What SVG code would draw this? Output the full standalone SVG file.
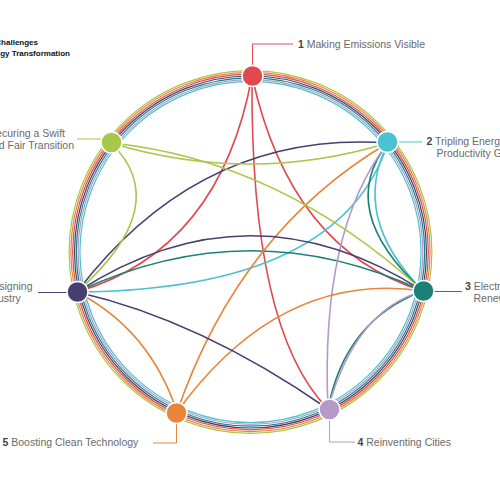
<svg xmlns="http://www.w3.org/2000/svg" width="500" height="500" viewBox="0 0 500 500">
<style>
.ch{fill:none;stroke-width:1.6}
.rg{fill:none;stroke-width:1.2}
.ld{fill:none;stroke-width:1}
.nd{stroke:#fff;stroke-width:1.5}
.lb{font-family:"Liberation Sans",Arial,sans-serif;font-size:10.5px;fill:#6a6a6a}
.nb{font-weight:bold;fill:#444}
.tt{font-family:"Liberation Sans",Arial,sans-serif;font-size:8px;font-weight:bold;fill:#111}
.c1{stroke:#e04a4f}.c2{stroke:#4ac2d2}.c3{stroke:#1a8078}.c4{stroke:#b499c9}.c5{stroke:#e9843a}.c6{stroke:#463f70}.c7{stroke:#a9c74a}
</style>
<rect width="500" height="500" fill="#fff"/>
<g id="title">
<text class="tt" x="38" y="44.5" text-anchor="end">The Seven Challenges</text>
<text class="tt" x="70" y="55.5" text-anchor="end">of the Energy Transformation</text>
</g>
<g id="ring">
<circle class="rg c7" cx="250.5" cy="252" r="181.4"/>
<circle class="rg c5" cx="250.5" cy="252" r="179.6"/>
<circle class="rg c1" cx="250.5" cy="252" r="177.8"/>
<circle class="rg c6" cx="250.5" cy="252" r="176"/>
<circle class="rg c3" cx="250.5" cy="252" r="174.2"/>
<circle class="rg c4" cx="250.5" cy="252" r="172.4"/>
<circle class="rg c2" cx="250.5" cy="252" r="170.6"/>
</g>
<g id="connectors">
<path class="ch c1" d="M252,76 Q220,250 77,292"/>
<path class="ch c1" d="M252,76 Q250,330 328,409"/>
<path class="ch c1" d="M252,76 Q290,250 423,291"/>
<path class="ch c2" d="M388,143 Q340,290 77,292"/>
<path class="ch c2" d="M388,143 Q350,217 423,291"/>
<path class="ch c3" d="M423,291 Q335,210 388,143"/>
<path class="ch c3" d="M423,291 Q250,210 77,292"/>
<path class="ch c3" d="M423,291 Q345,320 328,409"/>
<path class="ch c4" d="M328,409 Q320,230 388,143"/>
<path class="ch c4" d="M328,409 Q355,310 423,291"/>
<path class="ch c5" d="M177,412 Q240,230 388,143"/>
<path class="ch c5" d="M177,412 Q280,270 423,291"/>
<path class="ch c5" d="M177,412 Q150,330 77,292"/>
<path class="ch c6" d="M77,292 Q200,130 388,143"/>
<path class="ch c6" d="M77,292 Q250,180 423,291"/>
<path class="ch c6" d="M77,292 Q200,320 328,409"/>
<path class="ch c7" d="M111,143 Q250,185 388,143"/>
<path class="ch c7" d="M111,143 Q280,160 423,291"/>
<path class="ch c7" d="M111,143 Q175,205 77,292"/>
</g>
<g id="n1">
<path class="ld c1" d="M252.5,66 V44 H293"/>
<circle class="nd" cx="252.5" cy="76" r="10.5" fill="#e04a4f"/>
<text class="lb" x="298" y="48"><tspan class="nb">1</tspan> Making Emissions Visible</text>
</g>
<g id="n2">
<path class="ld c2" d="M399,142 H422"/>
<circle class="nd" cx="387.5" cy="142" r="10.5" fill="#4ac2d2"/>
<text class="lb" x="426.5" y="145"><tspan class="nb">2</tspan> Tripling Energy</text>
<text class="lb" x="436.5" y="157">Productivity Gains</text>
</g>
<g id="n3">
<path class="ld c3" d="M434,291.5 H462"/>
<circle class="nd" cx="423.5" cy="291" r="10.5" fill="#1a8078"/>
<text class="lb" x="465" y="290"><tspan class="nb">3</tspan> Electrifying with</text>
<text class="lb" x="473.5" y="302">Renewables</text>
</g>
<g id="n4">
<path class="ld c4" d="M329.5,420 V442 H355"/>
<circle class="nd" cx="329.5" cy="409.5" r="10.5" fill="#b499c9"/>
<text class="lb" x="357.5" y="446"><tspan class="nb">4</tspan> Reinventing Cities</text>
</g>
<g id="n5">
<path class="ld c5" d="M153,443 H176.5 V423"/>
<circle class="nd" cx="176.5" cy="413" r="10.5" fill="#e9843a"/>
<text class="lb" x="2.5" y="446"><tspan class="nb">5</tspan> Boosting Clean Technology</text>
</g>
<g id="n6">
<path class="ld c6" d="M38,292.5 H67"/>
<circle class="nd" cx="77.5" cy="292" r="10.5" fill="#463f70"/>
<text class="lb" x="32.5" y="290" text-anchor="end"><tspan class="nb">6</tspan> Redesigning</text>
<text class="lb" x="20.7" y="302" text-anchor="end">Industry</text>
</g>
<g id="n7">
<path class="ld c7" d="M77,139 H101"/>
<circle class="nd" cx="111.5" cy="142.5" r="10.5" fill="#a9c74a"/>
<text class="lb" x="65" y="136.5" text-anchor="end"><tspan class="nb">7</tspan> Securing a Swift</text>
<text class="lb" x="74" y="148.5" text-anchor="end">and Fair Transition</text>
</g>
</svg>
